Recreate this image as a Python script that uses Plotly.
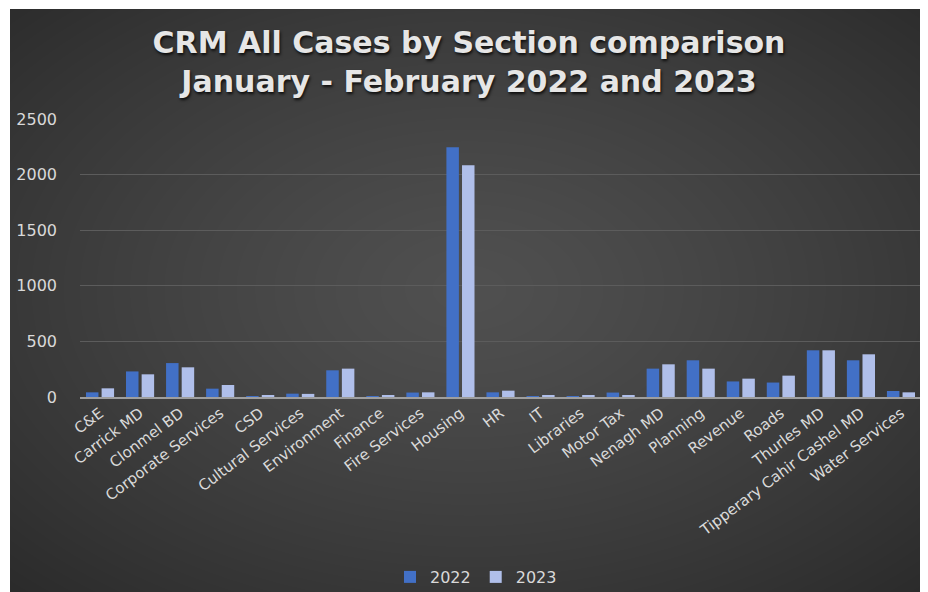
import base64
import struct
import zlib

import numpy as np
import plotly.graph_objects as go

# ---------------- data ----------------
categories = [
    "C&E", "Carrick MD", "Clonmel BD", "Corporate Services", "CSD",
    "Cultural Services", "Environment", "Finance", "Fire Services", "Housing",
    "HR", "IT", "Libraries", "Motor Tax", "Nenagh MD", "Planning", "Revenue",
    "Roads", "Thurles MD", "Tipperary Cahir Cashel MD", "Water Services",
]
values_2022 = [42, 230, 305, 75, 3, 30, 240, 4, 40, 2245,
               42, 5, 5, 40, 255, 330, 140, 130, 420, 330, 54]
values_2023 = [78, 204, 267, 108, 12, 28, 255, 12, 42, 2085,
               57, 10, 15, 12, 294, 255, 165, 192, 420, 384, 42]
series_names = ["2022", "2023"]
y_ticks = [0, 500, 1000, 1500, 2000, 2500]

# ---------------- figure geometry ----------------
# the page body adds an 8px margin, so the figure is 8px smaller
W, H = 920, 584
ML, MR, MT, MB = 72, 7, 111, 195
PW, PH = W - ML - MR, H - MT - MB

# ---------------- background gradient (dark radial) ----------------
BX, BY = 2, 1            # white strip left/top inside the figure
BW, BH = W - BX, H - BY
yy, xx = np.mgrid[0:BH, 0:BW]
cx, cy = BW * 0.50, BH * 0.48
r = np.sqrt(((xx - cx) / (BW / 2)) ** 2 + ((yy - cy) / (BH / 2)) ** 2) / np.sqrt(2)
v = np.clip(80 - 36 * r ** 1.25, 0, 255).astype(np.uint8)


def png_gray(arr):
    h, w = arr.shape
    raw = b"".join(b"\x00" + arr[i].tobytes() for i in range(h))

    def chunk(tag, data):
        c = struct.pack(">I", len(data)) + tag + data
        return c + struct.pack(">I", zlib.crc32(tag + data) & 0xFFFFFFFF)

    return (b"\x89PNG\r\n\x1a\n"
            + chunk(b"IHDR", struct.pack(">IIBBBBB", w, h, 8, 0, 0, 0, 0))
            + chunk(b"IDAT", zlib.compress(raw, 9))
            + chunk(b"IEND", b""))


bg_uri = "data:image/png;base64," + base64.b64encode(png_gray(v)).decode()

# ---------------- traces ----------------
fig = go.Figure()
fig.add_trace(go.Bar(x=categories, y=values_2022, name=series_names[0],
                     marker=dict(color="#4270c6", line=dict(width=0))))
fig.add_trace(go.Bar(x=categories, y=values_2023, name=series_names[1],
                     marker=dict(color="#b0bfea", line=dict(width=0))))

font_main = "DejaVu Sans"
lab_col = "#d9d9d9"

fig.update_layout(
    width=W, height=H,
    margin=dict(l=ML, r=MR, t=MT, b=MB, pad=0),
    paper_bgcolor="white",
    plot_bgcolor="rgba(0,0,0,0)",
    barmode="group",
    bargap=0.22,
    bargroupgap=0.2,
    title=dict(
        text="CRM All Cases by Section comparison<br>January - February 2022 and 2023",
        x=(469 - 8) / W, xanchor="center", xref="container",
        y=1 - 44.5 / H, yanchor="middle", yref="container",
        font=dict(family=font_main, size=30, color="#e6e6e6", weight="bold",
                  shadow="1px 2px 3px rgba(0,0,0,0.8)"),
    ),
    showlegend=True,
    legend=dict(
        orientation="h", xref="container", yref="container",
        x=(476 - 8) / W, xanchor="center", y=1 - (577 - 8) / H, yanchor="middle",
        font=dict(family=font_main, size=16, color=lab_col),
        bgcolor="rgba(0,0,0,0)", itemwidth=30,
    ),
    images=[dict(
        source=bg_uri, xref="paper", yref="paper",
        x=(BX - ML) / PW, y=(H - MB - BY) / PH,
        sizex=BW / PW, sizey=BH / PH,
        xanchor="left", yanchor="top", sizing="stretch", layer="below",
    )],
)

fig.update_xaxes(
    tickangle=-37,
    tickfont=dict(family=font_main, size=15, color=lab_col),
    showline=True, linecolor="#9e9e9e", linewidth=1.5,
    showgrid=False, ticks="",
)
fig.update_yaxes(
    range=[0, 2500], tickvals=y_ticks,
    tickfont=dict(family=font_main, size=16, color=lab_col),
    showgrid=True, gridcolor="#5c5c5c", gridwidth=1,
    zeroline=False, showline=False, ticks="",
    ticklabelstandoff=22,
)

fig.write_html("out.html")
